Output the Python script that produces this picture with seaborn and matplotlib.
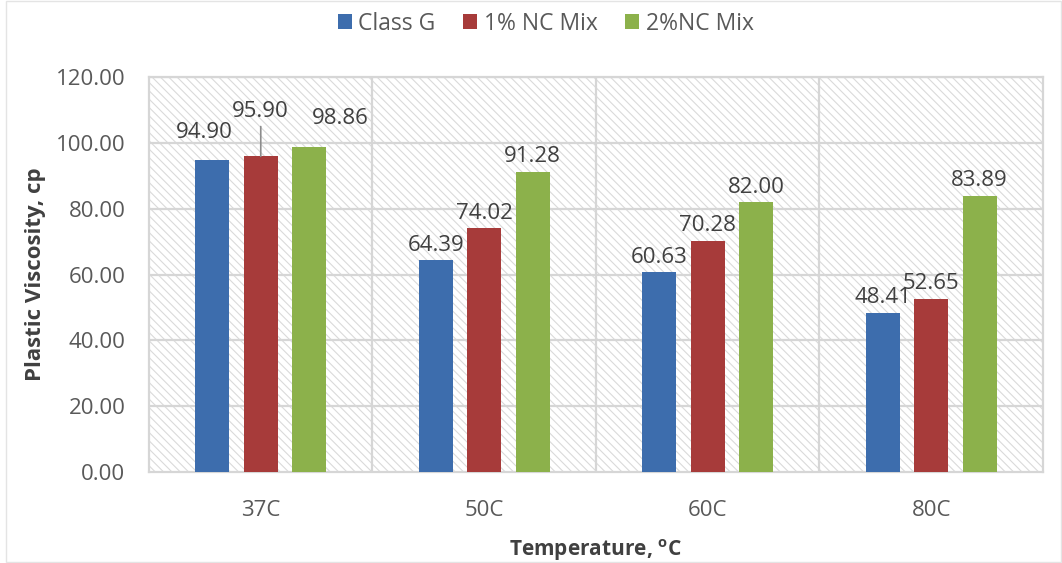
import matplotlib
matplotlib.use("Agg")
import matplotlib.pyplot as plt
from matplotlib.patches import Rectangle
import pandas as pd
import seaborn as sns

# Plastic viscosity of cement slurries at each test temperature
temperatures = ["37C", "50C", "60C", "80C"]
series_names = ["Class G", "1% NC Mix", "2%NC Mix"]
class_g = [94.90, 64.39, 60.63, 48.41]
nc1_mix = [95.90, 74.02, 70.28, 52.65]
nc2_mix = [98.86, 91.28, 82.00, 83.89]
y_ticks = [0, 20, 40, 60, 80, 100, 120]

colors = ["#3d6dad", "#a73b3a", "#8cb14b"]

df = pd.DataFrame({
    "Temperature": temperatures * 3,
    "Series": [s for s in series_names for _ in temperatures],
    "Viscosity": class_g + nc1_mix + nc2_mix,
})

sns.set_theme(style="white")
plt.rcParams["font.family"] = ["Open Sans", "DejaVu Sans"]
plt.rcParams["hatch.linewidth"] = 0.8

fig = plt.figure(figsize=(10.62, 5.63), dpi=100)
ax = fig.add_axes([0.1403, 0.1616, 0.8418, 0.7016])

# faint outer frame of the chart area
fig.patches.append(Rectangle((0.006, 0.002), 0.993, 0.997, transform=fig.transFigure,
                             fill=False, edgecolor="#e4e4e4", linewidth=1.0, zorder=0))

# diagonal hatched plot background
ax.set_facecolor("white")
ax.add_patch(Rectangle((0, 0), 1, 1, transform=ax.transAxes, facecolor="white",
                       edgecolor="#dadada", hatch="\\\\\\\\", linewidth=0, zorder=0))

sns.barplot(data=df, x="Temperature", y="Viscosity", hue="Series",
            hue_order=series_names, order=temperatures, palette=colors,
            width=0.65, gap=0.3, saturation=1, ax=ax, zorder=3,
            edgecolor="none", linewidth=0)

ax.set_ylim(0, 120)
ax.set_xlim(-0.5, len(temperatures) - 0.5)
ax.set_yticks(y_ticks)
ax.set_yticklabels([f"{v:.2f}" for v in y_ticks])

# gridlines: horizontal at each tick, vertical between categories
for v in y_ticks[1:]:
    ax.axhline(v, color="#d6d6d6", linewidth=1.6, zorder=1)
for xb in [0.5, 1.5, 2.5]:
    ax.axvline(xb, color="#d6d6d6", linewidth=1.6, zorder=1)
for sp in ax.spines.values():
    sp.set_color("#d6d6d6")
    sp.set_linewidth(1.6)

ax.tick_params(axis="both", length=0, labelsize=16, labelcolor="#595959")
ax.tick_params(axis="x", pad=20)
ax.tick_params(axis="y", pad=17)

ax.set_xlabel("Temperature, $\\mathregular{^{o}}$C", fontsize=15, fontweight="bold",
              color="#404040", labelpad=12)
ax.set_ylabel("Plastic Viscosity, cp", fontsize=16, fontweight="bold",
              color="#404040", labelpad=7)

# data labels (pixel offsets: dx, dy relative to bar top)
label_offsets = {
    (0, 0): (-8, 27), (1, 0): (0, 45), (2, 0): (31, 28),
}
for si, cont in enumerate(ax.containers):
    for ci, bar in enumerate(cont):
        h = bar.get_height()
        xc = bar.get_x() + bar.get_width() / 2
        dx, dy = label_offsets.get((si, ci), (0, 15))
        if (si, ci) == (1, 0):
            ax.annotate(f"{h:.2f}", xy=(xc, h), xytext=(dx, dy),
                        textcoords="offset pixels", ha="center", va="center",
                        fontsize=16, color="#404040", zorder=5,
                        arrowprops=dict(arrowstyle="-", color="#8c8c8c", lw=1.2,
                                        shrinkA=1, shrinkB=0, relpos=(0.5, 0)))
        else:
            ax.annotate(f"{h:.2f}", xy=(xc, h), xytext=(dx, dy),
                        textcoords="offset pixels", ha="center", va="center",
                        fontsize=16, color="#404040", zorder=5)

ax.get_legend().remove()
handles = [Rectangle((0, 0), 1, 1, facecolor=c, edgecolor="none") for c in colors]
fig.legend(handles, series_names, loc="center", bbox_to_anchor=(0.514, 0.958),
           ncol=3, frameon=False, fontsize=16.5, handlelength=0.6, handleheight=0.6,
           handletextpad=0.3, columnspacing=1.2, labelcolor="#595959")

fig.savefig("out.png", dpi=100, facecolor="white")
